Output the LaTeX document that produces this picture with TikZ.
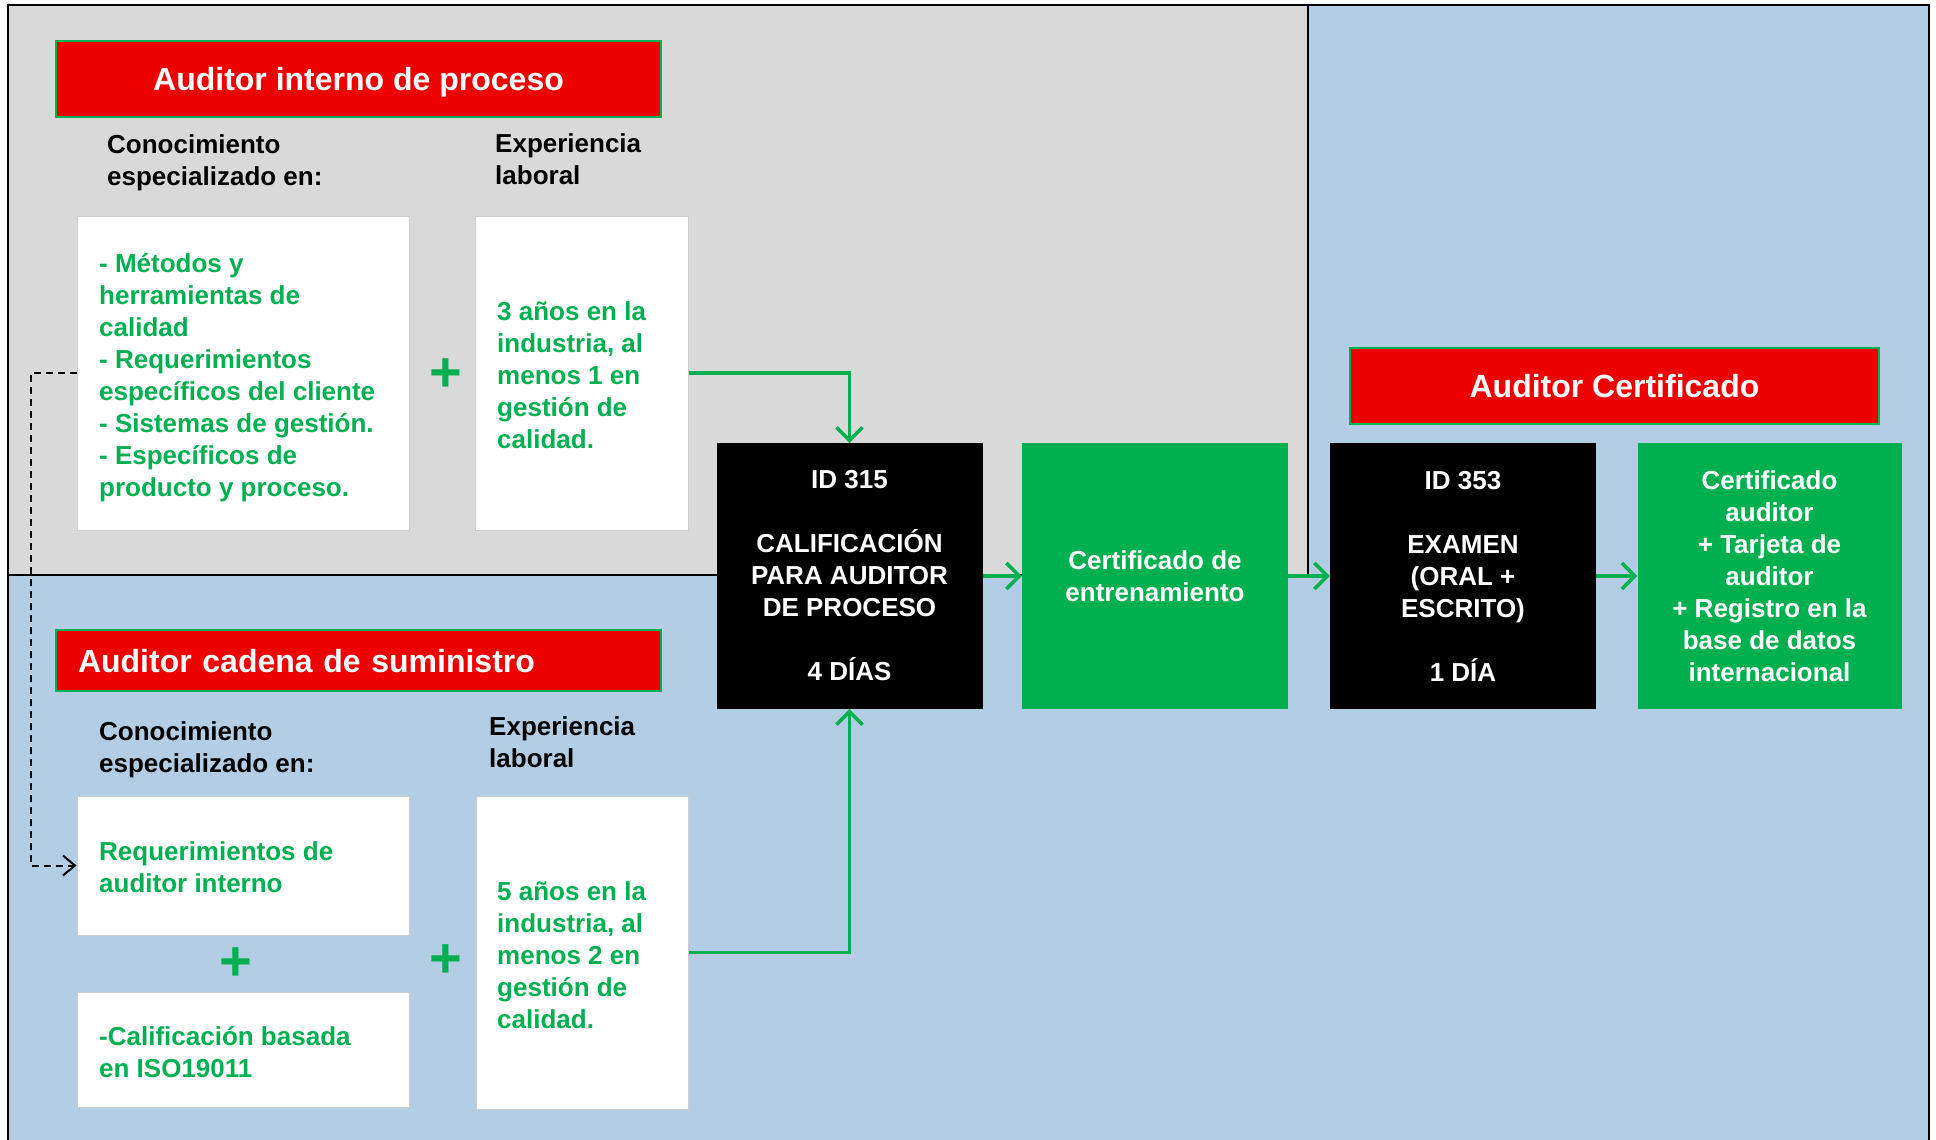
\documentclass[tikz,border=0pt]{standalone}
\usepackage{fontspec}
\setmainfont{Liberation Sans}
\usetikzlibrary{arrows.meta}
\definecolor{rd}{RGB}{238,0,0}
\definecolor{gr}{RGB}{0,176,80}
\definecolor{gy}{RGB}{217,217,217}
\definecolor{bl}{RGB}{179,205,229}
\definecolor{wbd}{RGB}{205,205,205}
\tikzset{
  titlebox/.style={fill=rd, draw=gr, line width=1.5pt, text=white, font=\fontsize{32}{38}\selectfont\bfseries, inner sep=0pt, text height=23pt, text depth=0pt},
  wbox/.style={fill=white, draw=wbd, line width=1pt, inner sep=0pt},
  gtxt/.style={text=gr, font=\fontsize{26}{32}\selectfont\bfseries, align=left, inner sep=0pt, anchor=west},
  htxt/.style={text=black, font=\fontsize{26}{32}\selectfont\bfseries, align=left, inner sep=0pt, anchor=west},
  blkbox/.style={fill=black, text=white, font=\fontsize{26}{32}\selectfont\bfseries, align=center, inner sep=0pt, minimum width=266pt, minimum height=266pt},
  grnbox/.style={fill=gr, text=white, font=\fontsize{26}{32}\selectfont\bfseries, align=center, inner sep=0pt, minimum width=266pt, minimum height=266pt},
  flow/.style={draw=gr, line width=3.5pt, -{Straight Barb[length=13pt,width=26pt]}},
  dashline/.style={draw=black, line width=2pt, dash pattern=on 7pt off 5pt, -{Straight Barb[length=12pt,width=20pt]}},
  plussign/.style={text=gr, font=\fontsize{56}{56}\selectfont\bfseries, inner sep=0pt}
}
\begin{document}
\begin{tikzpicture}[x=1pt,y=-1pt]
\useasboundingbox (0,0) rectangle (1936,1140);
\fill[white] (0,0) rectangle (1936,1140);
\fill[bl] (8,5) rectangle (1929,1145);
\fill[gy] (8,5) rectangle (1308,575);
\draw[line width=2pt] (8,1145) -- (8,5) -- (1929,5) -- (1929,1145);
\draw[line width=2pt] (8,575) -- (1308,575) -- (1308,5);

% titles
\node[titlebox, minimum width=605pt, minimum height=76pt] (t1) at (358.5,79) {Auditor interno de proceso};
\node[titlebox, minimum width=605pt, minimum height=61pt, text width=561pt, align=left] (t2) at (358.5,660.5) {Auditor cadena de suministro};
\node[titlebox, minimum width=529pt, minimum height=76pt] (t3) at (1614.5,386) {Auditor Certificado};

% headers
\node[htxt] (h1) at (107,163) {Conocimiento\\especializado en:};
\node[htxt] (h2) at (495,159) {Experiencia\\laboral};
\node[htxt] (h3) at (99,750) {Conocimiento\\especializado en:};
\node[htxt] (h4) at (489,742) {Experiencia\\laboral};

% white boxes
\node[wbox, minimum width=332pt, minimum height=314pt] (kn1) at (243,373) {};
\node[wbox, minimum width=213pt, minimum height=314pt] (ex1) at (581.5,373) {};
\node[wbox, minimum width=332pt, minimum height=139pt] (kn2a) at (243,865.5) {};
\node[wbox, minimum width=332pt, minimum height=115pt] (kn2b) at (243,1049.5) {};
\node[wbox, minimum width=212pt, minimum height=313pt] (ex2) at (582,952.5) {};

\node[gtxt] (kn1t) at (99,378) {- Métodos y\\herramientas de\\calidad\\- Requerimientos\\específicos del cliente\\- Sistemas de gestión.\\- Específicos de\\producto y proceso.};
\node[gtxt] (ex1t) at (497,375) {3 años en la\\industria, al\\menos 1 en\\gestión de\\calidad.};
\node[gtxt] (kn2at) at (99,867) {Requerimientos de\\auditor interno};
\node[gtxt] (kn2bt) at (99,1052) {-Calificación basada\\en ISO19011};
\node[gtxt] (ex2t) at (497,955) {5 años en la\\industria, al\\menos 2 en\\gestión de\\calidad.};

% plus signs
\node[plussign] (p1) at (446,375) {+};
\node[plussign] (p2) at (236,964) {+};
\node[plussign] (p3) at (446,961) {+};

% main flow boxes
\node[blkbox] (bb1) at (849.5,576) {ID 315\\[32pt]CALIFICACIÓN\\PARA AUDITOR\\DE PROCESO\\[32pt]4 DÍAS};
\node[grnbox] (gb1) at (1155,576) {Certificado de\\entrenamiento};
\node[blkbox] (bb2) at (1463,576) {ID 353\\[32pt]EXAMEN\\(ORAL +\\ESCRITO)\\[32pt]1 DÍA};
\node[grnbox, minimum width=264pt] (gb2) at (1769.5,576) {Certificado\\auditor\\+ Tarjeta de\\auditor\\+ Registro en la\\base de datos\\internacional};

% connectors
\draw[flow] (ex1.east) -| (bb1.north);
\draw[flow] (ex2.east) -| (bb1.south);
\draw[flow] (bb1.east) -- (gb1.west);
\draw[flow] (gb1.east) -- (bb2.west);
\draw[flow] (bb2.east) -- (gb2.west);
\draw[dashline] (kn1.west) -- ++(-46,0) |- (kn2a.west);
\end{tikzpicture}
\end{document}
